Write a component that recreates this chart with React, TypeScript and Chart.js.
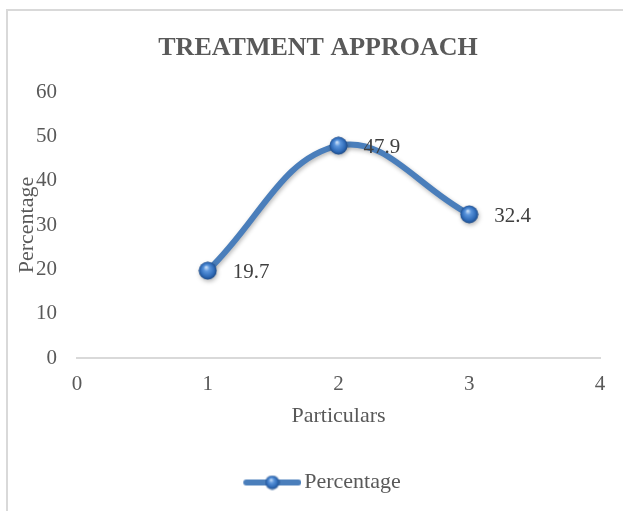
import { useEffect, useRef } from "react";
import { Chart, registerables } from "chart.js";

Chart.register(...registerables);

// Data
const particulars = [1, 2, 3];
const percentage = [19.7, 47.9, 32.4];
const xTickValues = [0, 1, 2, 3, 4];
const yTickValues = [0, 10, 20, 30, 40, 50, 60];

const chartTitle = "TREATMENT APPROACH";
const seriesName = "Percentage";
const xAxisTitle = "Particulars";
const yAxisTitle = "Percentage";

const SERIF = "'Liberation Serif', 'Times New Roman', Times, serif";
const TEXT_GREY = "#595959";
const LINE_BLUE = "#4a7ebb";

// Glossy sphere used as the point marker
function makeSphere(size: number): HTMLCanvasElement {
  const c = document.createElement("canvas");
  c.width = size;
  c.height = size;
  const g = c.getContext("2d")!;
  const r = size / 2 - 0.5;
  const grad = g.createRadialGradient(size * 0.42, size * 0.32, 0.5, size / 2, size / 2, r);
  grad.addColorStop(0, "#c4dcf7");
  grad.addColorStop(0.3, "#5b95dc");
  grad.addColorStop(0.75, "#2f6bb8");
  grad.addColorStop(1, "#1d4a86");
  g.fillStyle = grad;
  g.beginPath();
  g.arc(size / 2, size / 2, r, 0, Math.PI * 2);
  g.fill();
  return c;
}

// Legend marker: a short thick line with the sphere on it (left margin keeps it
// clear of the label text when the legend box is centred)
function makeLegendMarker(): HTMLCanvasElement {
  const w = 74;
  const h = 20;
  const lineStart = 16;
  const c = document.createElement("canvas");
  c.width = w;
  c.height = h;
  const g = c.getContext("2d")!;
  g.strokeStyle = LINE_BLUE;
  g.lineWidth = 6;
  g.lineCap = "round";
  g.beginPath();
  g.moveTo(lineStart + 3, h / 2);
  g.lineTo(w - 3, h / 2);
  g.stroke();
  const s = makeSphere(15);
  const cx = lineStart + (w - lineStart) / 2;
  g.drawImage(s, cx - 7.5, h / 2 - 7.5);
  return c;
}

const valueLabels = {
  id: "valueLabels",
  afterDatasetsDraw(chart: any) {
    const ctx = chart.ctx;
    const meta = chart.getDatasetMeta(0);
    const data = chart.data.datasets[0].data as { x: number; y: number }[];
    ctx.save();
    ctx.font = `21px ${SERIF}`;
    ctx.fillStyle = "#404040";
    ctx.textAlign = "left";
    ctx.textBaseline = "middle";
    meta.data.forEach((pt: any, i: number) => {
      ctx.fillText(String(data[i].y), pt.x + 25, pt.y + 2);
    });
    ctx.restore();
  },
};

const lineShadow = {
  id: "lineShadow",
  beforeDatasetDraw(chart: any) {
    const ctx = chart.ctx;
    ctx.save();
    ctx.shadowColor = "rgba(0,0,0,0.28)";
    ctx.shadowBlur = 4;
    ctx.shadowOffsetX = 1;
    ctx.shadowOffsetY = 2;
  },
  afterDatasetDraw(chart: any) {
    chart.ctx.restore();
  },
};

export default function App() {
  const canvasRef = useRef<HTMLCanvasElement | null>(null);

  useEffect(() => {
    const canvas = canvasRef.current;
    if (!canvas) return;
    const sphere = makeSphere(19);
    const legendMarker = makeLegendMarker();

    const chart = new Chart(canvas, {
      type: "line",
      data: {
        datasets: [
          {
            label: seriesName,
            data: particulars.map((x, i) => ({ x, y: percentage[i] })),
            borderColor: LINE_BLUE,
            backgroundColor: LINE_BLUE,
            borderWidth: 6,
            tension: 0.4,
            pointStyle: sphere as any,
            pointRadius: 9.5,
            pointHoverRadius: 9.5,
            fill: false,
          },
        ],
      },
      options: {
        animation: false,
        responsive: false,
        maintainAspectRatio: false,
        layout: { padding: { left: 14, right: 14, top: 10, bottom: 7.5 } },
        scales: {
          x: {
            type: "linear",
            min: 0,
            max: 4,
            afterBuildTicks: (scale: any) => {
              scale.ticks = xTickValues.map((v) => ({ value: v }));
            },
            afterFit: (scale: any) => {
              scale.height = 103.5;
              scale.paddingRight = 36;
            },
            grid: { display: false, drawTicks: false },
            border: { display: true, color: "#d9d9d9", width: 2 },
            ticks: {
              color: TEXT_GREY,
              font: { family: SERIF, size: 21 },
              padding: 14,
              maxRotation: 0,
            },
            title: {
              display: true,
              text: xAxisTitle,
              color: TEXT_GREY,
              font: { family: SERIF, size: 22 },
              padding: { top: 8, bottom: 32 },
            },
          },
          y: {
            type: "linear",
            min: 0,
            max: 60,
            afterBuildTicks: (scale: any) => {
              scale.ticks = yTickValues.map((v) => ({ value: v }));
            },
            afterFit: (scale: any) => {
              scale.width = 63;
            },
            grid: { display: false, drawTicks: false },
            border: { display: false },
            ticks: {
              color: TEXT_GREY,
              font: { family: SERIF, size: 21 },
              padding: 20,
            },
            title: {
              display: true,
              text: yAxisTitle,
              color: TEXT_GREY,
              font: { family: SERIF, size: 22 },
              padding: { top: 0, bottom: 0 },
            },
          },
        },
        plugins: {
          title: {
            display: true,
            text: chartTitle,
            color: TEXT_GREY,
            font: { family: SERIF, size: 26, weight: "bold" },
            padding: { top: 22.4, bottom: 28.4 },
          },
          legend: {
            display: true,
            position: "bottom",
            labels: {
              color: TEXT_GREY,
              font: { family: SERIF, size: 22 },
              usePointStyle: true,
              pointStyleWidth: 58,
              generateLabels: (c: any) =>
                Chart.defaults.plugins.legend.labels.generateLabels(c).map((item: any) => ({
                  ...item,
                  pointStyle: legendMarker,
                })),
            },
          },
          tooltip: { enabled: false },
        },
      },
      plugins: [lineShadow, valueLabels],
    });

    return () => chart.destroy();
  }, []);

  return (
    <div
      style={{
        position: "fixed",
        left: 0,
        top: 0,
        width: 623,
        height: 511,
        overflow: "hidden",
        background: "#ffffff",
      }}
    >
      <div
        style={{
          position: "absolute",
          left: 6,
          top: 9,
          width: 640,
          height: 540,
          border: "2px solid #d9d9d9",
          boxSizing: "border-box",
        }}
      />
      <canvas
        ref={canvasRef}
        width={636}
        height={511}
        style={{ position: "absolute", left: 0, top: 0, width: 636, height: 511 }}
      />
    </div>
  );
}
